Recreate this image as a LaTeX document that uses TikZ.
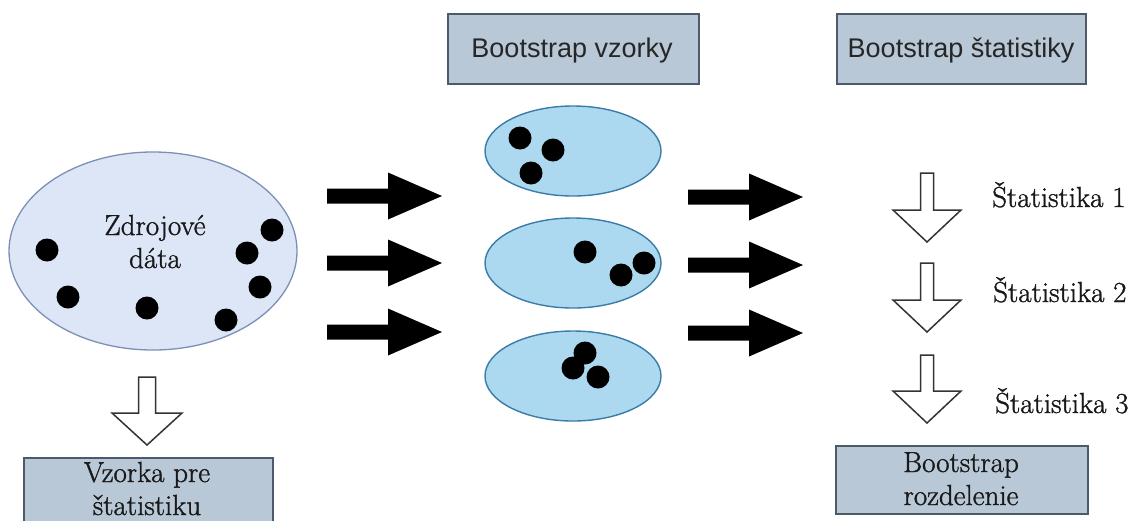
\documentclass[tikz,border=0pt]{standalone}
\usepackage{fontspec}
\newfontfamily\serifface{Latin Modern Roman}[FakeBold=1.2]
\newfontfamily\boxsans{Liberation Sans}
\usetikzlibrary{shapes.geometric}

\definecolor{boxfill}{HTML}{B9C8D7}
\definecolor{boxline}{HTML}{4B5B6B}
\definecolor{srcfill}{HTML}{DCE6F6}
\definecolor{srcline}{HTML}{7D8FB5}
\definecolor{smpfill}{HTML}{ADD9F0}
\definecolor{smpline}{HTML}{3A7CA8}
\definecolor{hollowline}{HTML}{333333}

% solid right-pointing arrow, centred vertically on (#2,#3)
\newcommand\fatarrow[3]{%
  \coordinate (#1) at (#2,#3);
  \fill (#2,#3-7.5) -- ++(61,0) -- ++(0,-16) -- ++(54,23.5)
        -- ++(-54,23.5) -- ++(0,-16) -- ++(-61,0) -- cycle;
}
% outlined downward arrow: name, centre x, top y, shaft half width,
% head start, head half width, total length
\newcommand\hollowdown[7]{%
  \coordinate (#1) at (#2,#3);
  \draw[hollow] (#2-#4,#3) -- (#2+#4,#3) -- (#2+#4,#3+#5) -- (#2+#6,#3+#5)
        -- (#2,#3+#7) -- (#2-#6,#3+#5) -- (#2-#4,#3+#5) -- cycle;
}

\begin{document}
\begin{tikzpicture}[x=1pt,y=-1pt,
  graybox/.style={draw=boxline, fill=boxfill, line width=1.6pt,
    rectangle, inner sep=0pt, anchor=north west},
  srcset/.style={ellipse, draw=srcline, fill=srcfill, line width=1.3pt, inner sep=0pt},
  sample/.style={ellipse, draw=smpline, fill=smpfill, line width=1.4pt, inner sep=0pt,
    minimum width=176pt, minimum height=90pt},
  dot/.style={circle, fill=black, inner sep=0pt, minimum size=23pt},
  hollow/.style={draw=hollowline, fill=white, line width=1.5pt, line join=miter},
  serif/.style={inner sep=0pt, font=\serifface\fontsize{29}{32}\selectfont, text=black!90},
  sanslabel/.style={inner sep=0pt, font=\boxsans\fontsize{27}{30}\selectfont, text=black!85},
]
\useasboundingbox (0,0) rectangle (1139,520);
\clip (0,0) rectangle (1139,520);

% headers
\node[graybox, minimum width=251pt, minimum height=70pt] (bvbox) at (447,13) {};
\node[sanslabel, anchor=base] (bvtext) at (572,57) {Bootstrap vzorky};
\node[graybox, minimum width=249pt, minimum height=70pt] (bsbox) at (836,13) {};
\node[sanslabel, anchor=base] (bstext) at (961,57) {Bootstrap štatistiky};

% source data
\node[srcset, minimum width=288pt, minimum height=198pt] (src) at (153,251) {};
\node[serif, anchor=base] (src1) at (155,235) {Zdrojové};
\node[serif, anchor=base] (src2) at (155,268) {dáta};
\foreach \n/\px/\py in {a/47/250, b/68/297, c/147/308, d/226/320,
                       e/247/253, f/272/230, g/260/287}
  \node[dot] (src-\n) at (\px,\py) {};

% bootstrap samples
\node[sample] (s1) at (573,151) {};
\node[sample] (s2) at (573,263) {};
\node[sample] (s3) at (573,376) {};
\foreach \n/\px/\py in {a/520/138, b/553/150, c/531/173,
                       d/585/252, e/621/275, f/644/263,
                       g/585/353, h/573/368, i/598/377}
  \node[dot] (smp-\n) at (\px,\py) {};

% resampling arrows
\fatarrow{ra1}{327}{196}
\fatarrow{ra2}{327}{263}
\fatarrow{ra3}{327}{332}
\fatarrow{rb1}{688}{197}
\fatarrow{rb2}{688}{265}
\fatarrow{rb3}{688}{333}

% statistics
\hollowdown{d1}{927}{173}{6.5}{37}{34}{69}
\hollowdown{d2}{927}{263}{6.5}{37}{34}{69}
\hollowdown{d3}{927}{355}{6.5}{36}{34}{68}
\node[serif, anchor=base west] (st1) at (992,207) {Štatistika 1};
\node[serif, anchor=base west] (st2) at (993,302) {Štatistika 2};
\node[serif, anchor=base west] (st3) at (995,413) {Štatistika 3};

\node[graybox, minimum width=252pt, minimum height=68pt] (distbox) at (835,445) {};
\node[serif, anchor=base] (dist1) at (961,472) {Bootstrap};
\node[serif, anchor=base] (dist2) at (961,505) {rozdelenie};

% statistic on the original sample
\hollowdown{d0}{147}{377}{8.5}{36}{35}{68}
\node[graybox, minimum width=249pt, minimum height=90pt] (vzbox) at (23,457) {};
\node[serif, anchor=base] (vz1) at (147,482) {Vzorka pre};
\node[serif, anchor=base] (vz2) at (147,515) {štatistiku};
\end{tikzpicture}
\end{document}
